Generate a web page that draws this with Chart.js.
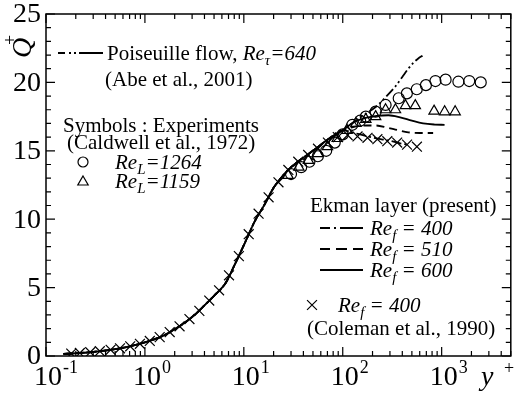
<!DOCTYPE html>
<html>
<head>
<meta charset="utf-8">
<script src="https://cdn.jsdelivr.net/npm/chart.js@4.4.0/dist/chart.umd.min.js"></script>
<style>
    html, body { margin: 0; padding: 0; background: #fff; }
    #wrap { width: 519px; height: 398px; }
</style>
</head>
<body>
<div id="wrap"><canvas id="grafico" width="519" height="398"></canvas></div>
<script>
// perfil comun cerca de la pared (todas las curvas)
const baseY = [0.15, 0.2, 0.3, 0.5, 0.7, 1, 1.5, 2, 3, 4, 5, 6.5, 8, 10, 13, 16, 20, 25, 30, 40, 50, 70, 100];
const baseQ = [0.15, 0.2, 0.3, 0.5, 0.7, 1.0, 1.45, 1.95, 2.85, 3.7, 4.4, 5.3, 6.6, 8.1, 9.9, 11.0, 12.3, 13.2, 13.8, 14.5, 15.0, 15.8, 16.5];

// Poiseuille flow, Re_tau = 640 (Abe et al., 2001)
const poisY = [130, 170, 215, 270, 340, 400, 460, 520, 580, 640];
const poisQ = [17.1, 17.7, 18.2, 18.9, 19.7, 20.4, 21.0, 21.45, 21.75, 21.95];

// Ekman layer (present)
const ek400Y = [130, 170, 220, 290, 380, 450];
const ek400Q = [16.3, 16.1, 15.9, 15.75, 15.55, 15.45];
const ek510Y = [130, 170, 215, 280, 340, 460, 600, 820];
const ek510Q = [16.75, 16.85, 16.85, 16.7, 16.55, 16.35, 16.3, 16.3];
const ek600Y = [130, 170, 220, 290, 380, 500, 650, 850, 1070];
const ek600Q = [17.1, 17.4, 17.55, 17.6, 17.45, 17.2, 17.0, 16.92, 16.9];

// Coleman et al., 1990 (Re_f = 400)
const colY = [0.18, 0.22, 0.28, 0.35, 0.45, 0.56, 0.71, 0.89, 1.12, 1.41, 1.78, 2.24, 2.82, 3.55, 4.47, 5.62, 7.08, 8.91,
    11.2, 14.1, 17.8, 22.4, 28.2, 35.5, 44.7, 56.2, 70.8, 89.1, 112, 141, 178, 224, 282, 355, 447, 562];
const colQ = [0.18, 0.22, 0.28, 0.35, 0.45, 0.56, 0.71, 0.89, 1.1, 1.38, 1.75, 2.17, 2.7, 3.3, 4.05, 4.8, 5.9, 7.3,
    8.9, 10.4, 11.6, 12.7, 13.6, 14.2, 14.7, 15.15, 15.6, 16.0, 16.15, 16.05, 15.95, 15.85, 15.7, 15.6, 15.45, 15.3];

// Caldwell et al., 1972
const cirY = [30, 38, 46, 56, 68, 83, 100, 125, 150, 171, 215, 271, 368, 445, 560, 693, 865, 1096, 1476, 1900, 2483];
const cirQ = [13.3, 13.8, 14.2, 14.6, 15.0, 15.6, 16.2, 16.9, 17.2, 17.5, 17.86, 18.35, 18.84, 19.2, 19.5, 19.8, 20.1, 20.2, 20.05, 20.1, 20.0];
const triY = [28, 36, 45, 56, 70, 88, 110, 136, 171, 215, 271, 341, 430, 541, 838, 1072, 1369];
const triQ = [13.2, 13.8, 14.3, 14.8, 15.3, 15.9, 16.5, 17.0, 17.3, 17.5, 18.0, 18.0, 18.3, 18.3, 17.9, 17.85, 17.85];

// ejes
const xTickExps = [-1, 0, 1, 2, 3];
const yTicks = [0, 5, 10, 15, 20, 25];

const FONT = '"Liberation Serif"';

const puntos = (xs, ys) => xs.map((v, i) => ({ x: v, y: ys[i] }));
const linea = (xs, ys) => puntos(baseY.concat(xs), baseQ.concat(ys));

const lineaDs = (data, dash) => ({
    data: data,
    showLine: true,
    borderColor: "#000",
    borderWidth: 1.8,
    borderDash: dash,
    pointRadius: 0,
    cubicInterpolationMode: "monotone",
    fill: false
});

const simbolosDs = (data, style, r) => ({
    data: data,
    showLine: false,
    pointStyle: style,
    pointRadius: r,
    pointBorderColor: "#000",
    pointBackgroundColor: "rgba(0,0,0,0)",
    pointBorderWidth: 1.2
});

// texto con partes en cursiva / subindice
const escribir = (ctx, x, y, partes) => {
    let cx = x;
    partes.forEach(p => {
        const size = p.sub ? 15 : 21;
        ctx.font = (p.it ? "italic " : "") + size + "px " + FONT;
        ctx.fillText(p.t, cx, y + (p.sub ? 5 : 0));
        cx += ctx.measureText(p.t).width;
    });
};

const segmentos = (ctx, y, segs) => {
    ctx.beginPath();
    segs.forEach(s => {
        ctx.moveTo(s[0], y);
        ctx.lineTo(s[1], y);
    });
    ctx.stroke();
};

const simbolo = (ctx, style, r, x, y) => {
    ctx.save();
    ctx.fillStyle = "rgba(0,0,0,0)";
    ctx.lineWidth = 1.2;
    Chart.helpers.drawPoint(ctx, { pointStyle: style, radius: r, borderWidth: 1.2 }, x, y);
    ctx.restore();
};

const marco = {
    id: "marco",
    afterDraw(chart) {
        const ctx = chart.ctx;
        const a = chart.chartArea;
        const xs = chart.scales.x;
        const ys = chart.scales.y;
        ctx.save();
        ctx.strokeStyle = "#000";
        ctx.fillStyle = "#000";
        ctx.lineWidth = 1.5;
        ctx.strokeRect(a.left, a.top, a.right - a.left, a.bottom - a.top);

        // marcas hacia adentro
        ctx.lineWidth = 1.2;
        ctx.beginPath();
        for (let e = -1; e <= 3; e++) {
            for (let m = 1; m <= 9; m++) {
                const v = m * Math.pow(10, e);
                if (v > 5000) continue;
                const px = xs.getPixelForValue(v);
                const len = m === 1 ? 9 : 5;
                ctx.moveTo(px, a.bottom); ctx.lineTo(px, a.bottom - len);
                ctx.moveTo(px, a.top); ctx.lineTo(px, a.top + len);
            }
        }
        for (let q = 0; q <= 25; q++) {
            const py = ys.getPixelForValue(q);
            const len = q % 5 === 0 ? 9 : 5;
            ctx.moveTo(a.left, py); ctx.lineTo(a.left + len, py);
            ctx.moveTo(a.right, py); ctx.lineTo(a.right - len, py);
        }
        ctx.stroke();

        // etiquetas de los ejes
        ctx.textBaseline = "alphabetic";
        xTickExps.forEach(e => {
            const px = xs.getPixelForValue(Math.pow(10, e));
            ctx.font = "28px " + FONT;
            ctx.textAlign = "center";
            ctx.fillText("10", px + 2, 385);
            const w = ctx.measureText("10").width;
            ctx.font = "18px " + FONT;
            ctx.textAlign = "left";
            ctx.fillText(e < 0 ? "-" + Math.abs(e) : String(e), px + 2 + w / 2 + 1, 373);
        });
        ctx.font = "28px " + FONT;
        ctx.textAlign = "right";
        ctx.textBaseline = "middle";
        yTicks.forEach(t => {
            ctx.fillText(String(t), 41, ys.getPixelForValue(t) + 1);
        });

        ctx.textAlign = "left";
        ctx.textBaseline = "alphabetic";
        ctx.font = "italic 28px " + FONT;
        ctx.fillText("y", 481, 385);
        ctx.font = "18px " + FONT;
        ctx.fillText("+", 504, 374);

        // Q+ vertical
        ctx.save();
        ctx.translate(31, 58);
        ctx.rotate(-Math.PI / 2);
        ctx.font = "italic 28px " + FONT;
        ctx.fillText("Q", 0, 0);
        ctx.font = "18px " + FONT;
        ctx.fillText("+", 13, -15);
        ctx.restore();

        // leyenda izquierda
        ctx.lineWidth = 1.8;
        segmentos(ctx, 53, [[58, 65], [69, 71], [74, 76], [79, 103]]);
        escribir(ctx, 107, 60, [{ t: "Poiseuille flow, " }, { t: "Re", it: true }, { t: "τ", it: true, sub: true }, { t: "=640", it: true }]);
        escribir(ctx, 105, 86, [{ t: "(Abe et al., 2001)" }]);
        escribir(ctx, 63, 132, [{ t: "Symbols : Experiments" }]);
        escribir(ctx, 67, 149, [{ t: "(Caldwell et al., 1972)" }]);
        simbolo(ctx, "circle", 5, 83, 162);
        simbolo(ctx, "triangle", 6, 83, 182);
        escribir(ctx, 115, 169, [{ t: "Re", it: true }, { t: "L", it: true, sub: true }, { t: "=1264", it: true }]);
        escribir(ctx, 115, 188, [{ t: "Re", it: true }, { t: "L", it: true, sub: true }, { t: "=1159", it: true }]);

        // leyenda derecha
        escribir(ctx, 310, 212, [{ t: "Ekman layer (present)" }]);
        ctx.lineWidth = 1.8;
        segmentos(ctx, 228, [[320, 330], [334, 336], [340, 363]]);
        segmentos(ctx, 249, [[320, 330], [336, 347], [353, 363]]);
        segmentos(ctx, 270, [[320, 363]]);
        const ref = [{ t: "Re", it: true }, { t: "f", it: true, sub: true }];
        escribir(ctx, 370, 235, ref.concat([{ t: " = 400", it: true }]));
        escribir(ctx, 370, 256, ref.concat([{ t: " = 510", it: true }]));
        escribir(ctx, 370, 277, ref.concat([{ t: " = 600", it: true }]));
        simbolo(ctx, "crossRot", 7, 312, 305);
        escribir(ctx, 338, 312, ref.concat([{ t: " = 400", it: true }]));
        escribir(ctx, 307, 335, [{ t: "(Coleman et al., 1990)" }]);
        ctx.restore();
    }
};

const generarGrafico = () => {
    const ctx = document.getElementById("grafico").getContext("2d");
    new Chart(ctx, {
        type: "scatter",
        data: {
            datasets: [
                lineaDs(linea(poisY, poisQ), [10, 3, 2, 3, 2, 3]),
                lineaDs(linea(ek400Y, ek400Q), [10, 3, 2, 3]),
                lineaDs(linea(ek510Y, ek510Q), [8, 5]),
                lineaDs(linea(ek600Y, ek600Q), []),
                simbolosDs(puntos(colY, colQ), "crossRot", 7),
                simbolosDs(puntos(cirY, cirQ), "circle", 5.5),
                simbolosDs(puntos(triY, triQ), "triangle", 6)
            ]
        },
        options: {
            responsive: false,
            animation: false,
            devicePixelRatio: 1,
            layout: { padding: { left: 46, right: 2, top: 14, bottom: 42 } },
            plugins: { legend: { display: false }, tooltip: { enabled: false } },
            scales: {
                x: { type: "logarithmic", min: 0.1, max: 5000, display: false },
                y: { type: "linear", min: 0, max: 25, display: false }
            }
        },
        plugins: [marco]
    });
};

document.addEventListener("DOMContentLoaded", generarGrafico);
</script>
</body>
</html>
